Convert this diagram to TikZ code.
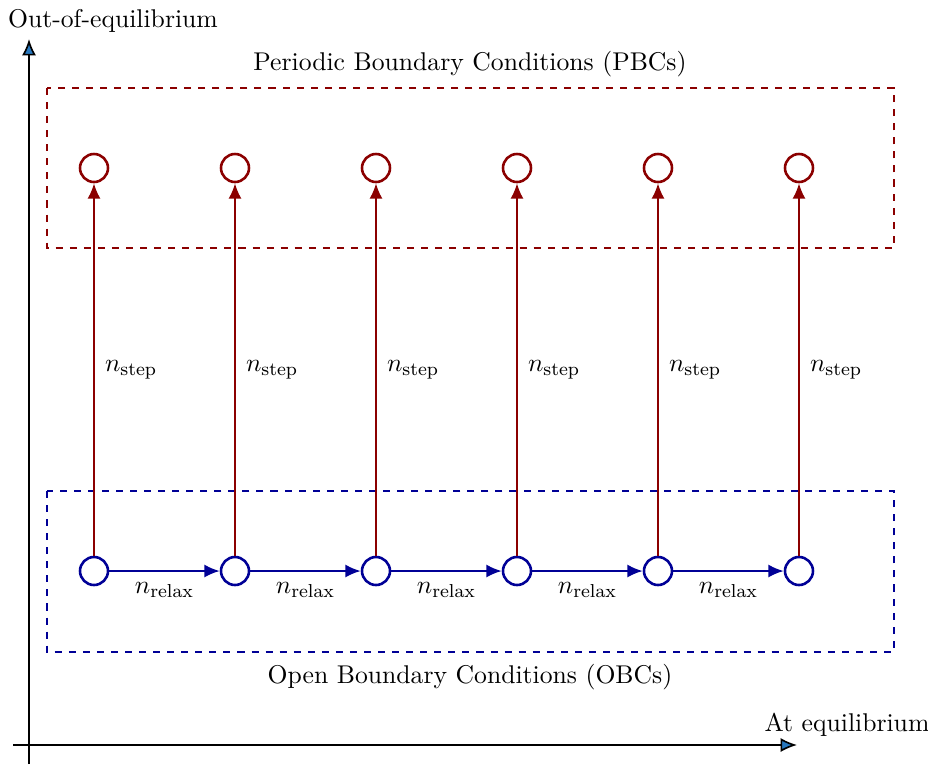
\documentclass[tikz,border=0pt]{standalone}
\usetikzlibrary{arrows.meta}
\definecolor{pbcred}{RGB}{139,0,0}
\definecolor{obcblue}{RGB}{0,0,150}
\definecolor{axisblue}{RGB}{40,120,190}
\begin{document}
\begin{tikzpicture}[x=0.015cm,y=-0.015cm,
  font=\fontsize{10.95pt}{13.6pt}\selectfont,
  site/.style={circle,draw,line width=1.1pt,minimum size=0.42cm,inner sep=0pt},
  redsite/.style={site,draw=pbcred},
  bluesite/.style={site,draw=obcblue},
  redarrow/.style={draw=pbcred,line width=0.8pt,-{Latex[length=6.5pt,width=5.5pt]}},
  bluearrow/.style={draw=obcblue,line width=0.8pt,-{Latex[length=6.5pt,width=5.5pt]}},
  axis/.style={line width=0.7pt,-{Latex[length=7pt,width=6pt,fill=axisblue]}},
  region/.style={dashed,line width=0.7pt}]
\useasboundingbox (0,0) rectangle (928,764);
% axes
\coordinate (yb) at (29,764);
\coordinate (yt) at (29,39);
\coordinate (xl) at (13,745);
\coordinate (xr) at (797,745);
\draw[axis] (yb) -- (yt);
\draw[axis] (xl) -- (xr);
\node (ylab) at (113,21) {Out-of-equilibrium};
\node (xlab) at (847,725) {At equilibrium};
% regions
\draw[region,draw=pbcred] (47,88) rectangle (894,248);
\draw[region,draw=obcblue] (47,491) rectangle (894,652);
\node (pbc) at (470,64) {Periodic Boundary Conditions (PBCs)};
\node (obc) at (470,677) {Open Boundary Conditions (OBCs)};
% sites
\foreach \i/\x in {1/94,2/235,3/376,4/517,5/658,6/799}{
  \node[redsite] (t\i) at (\x,168) {};
  \node[bluesite] (b\i) at (\x,571) {};
  \draw[redarrow] (b\i) -- node[right,text=black,xshift=1pt] {$n_{\mathrm{step}}$} (t\i);
}
\foreach \i/\j in {1/2,2/3,3/4,4/5,5/6}{
  \draw[bluearrow] (b\i) -- node[below,text=black,yshift=-1pt] {$n_{\mathrm{relax}}$} (b\j);
}
\end{tikzpicture}
\end{document}
